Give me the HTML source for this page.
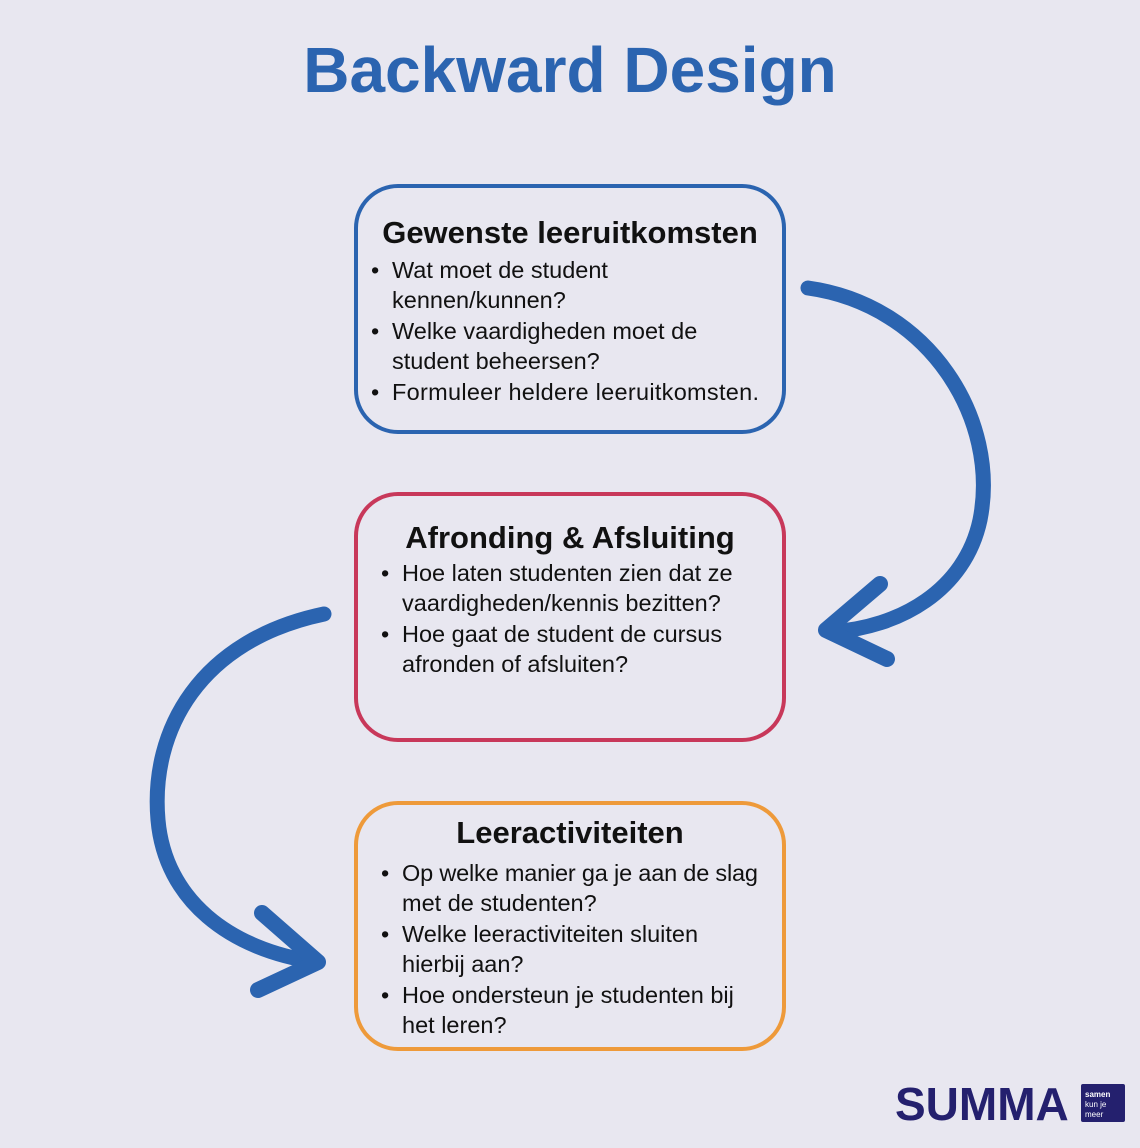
<!DOCTYPE html>
<html><head><meta charset="utf-8"><style>
html,body{margin:0;padding:0;background:#e8e7f0;}
svg{display:block;}
text{font-family:"Liberation Sans",sans-serif;}
</style></head><body>
<svg width="1140" height="1148" viewBox="0 0 1140 1148" xmlns="http://www.w3.org/2000/svg">
<rect width="1140" height="1148" fill="#e8e7f0"/>
<text x="570" y="92" text-anchor="middle" font-size="64" font-weight="bold" fill="#2b64b0">Backward Design</text>

<rect x="356" y="186" width="428" height="246" rx="42" fill="none" stroke="#2b64b0" stroke-width="4"/>
<rect x="356" y="494" width="428" height="246" rx="42" fill="none" stroke="#c8385a" stroke-width="4"/>
<rect x="356" y="803" width="428" height="246" rx="42" fill="none" stroke="#ee9a3a" stroke-width="4"/>

<g font-size="23.5" fill="#111">
<text x="570" y="243" text-anchor="middle" font-size="31" font-weight="bold">Gewenste leeruitkomsten</text>
<text x="371" y="278">•</text><text x="392" y="278">Wat moet de student</text>
<text x="392" y="308">kennen/kunnen?</text>
<text x="371" y="339">•</text><text x="392" y="339">Welke vaardigheden moet de</text>
<text x="392" y="369">student beheersen?</text>
<text x="371" y="400">•</text><text x="392" y="400" textLength="367">Formuleer heldere leeruitkomsten.</text>

<text x="570" y="548" text-anchor="middle" font-size="31" font-weight="bold">Afronding &amp; Afsluiting</text>
<text x="381" y="581">•</text><text x="402" y="581">Hoe laten studenten zien dat ze</text>
<text x="402" y="611">vaardigheden/kennis bezitten?</text>
<text x="381" y="642">•</text><text x="402" y="642">Hoe gaat de student de cursus</text>
<text x="402" y="672">afronden of afsluiten?</text>

<text x="570" y="843" text-anchor="middle" font-size="31" font-weight="bold">Leeractiviteiten</text>
<text x="381" y="881">•</text><text x="402" y="881" textLength="356">Op welke manier ga je aan de slag</text>
<text x="402" y="911">met de studenten?</text>
<text x="381" y="942">•</text><text x="402" y="942">Welke leeractiviteiten sluiten</text>
<text x="402" y="972">hierbij aan?</text>
<text x="381" y="1003">•</text><text x="402" y="1003">Hoe ondersteun je studenten bij</text>
<text x="402" y="1033">het leren?</text>
</g>

<g fill="none" stroke="#2b64b0" stroke-linecap="round" stroke-linejoin="round">
<path d="M808,288 C930,305 1000,420 980,520 C965,590 900,628 830,632" stroke-width="15"/>
<path d="M880,584 L826,630 L887,659" stroke-width="16"/>
<path d="M324,614 C200,640 150,730 158,820 C165,900 230,950 316,962" stroke-width="15"/>
<path d="M262,913 L318,962 L258,990" stroke-width="16"/>
</g>

<text x="895" y="1120" font-size="46" font-weight="bold" fill="#24206e">SUMMA</text>
<rect x="1081" y="1084" width="44" height="38" rx="2" fill="#24206e"/>
<text x="1085" y="1097" font-size="8" font-weight="bold" fill="#fff">samen</text>
<text x="1085" y="1107" font-size="8" fill="#fff">kun je</text>
<text x="1085" y="1117" font-size="8" fill="#fff">meer</text>
</svg>
</body></html>
